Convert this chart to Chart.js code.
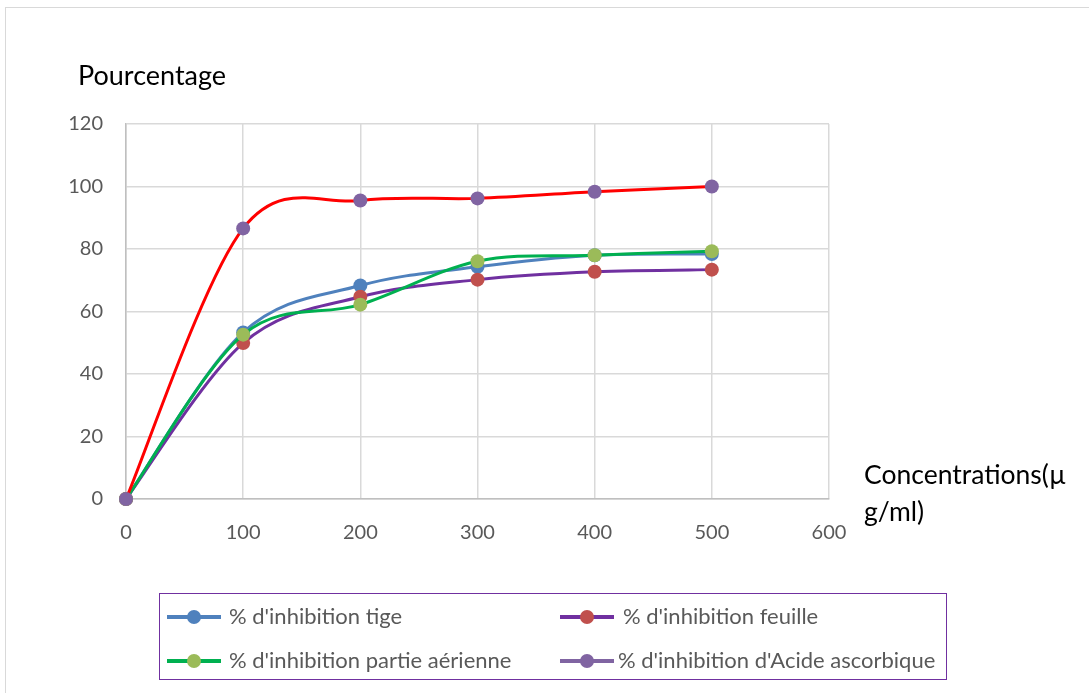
<!DOCTYPE html>
<html lang="fr">
<head>
<meta charset="utf-8">
<title>Pourcentage d'inhibition</title>
<script src="https://cdn.jsdelivr.net/npm/chart.js@4.4.1/dist/chart.umd.min.js"></script>
<style>
  html, body { margin: 0; padding: 0; background: #fff; }
  body { width: 1089px; height: 693px; position: relative; overflow: hidden; font-family: Lato, sans-serif; }
  #frame { position: absolute; left: 5px; top: 7px; width: 1200px; height: 800px; border-left: 1px solid #d9d9d9; border-top: 1px solid #d9d9d9; }
  #chart { position: absolute; left: 0; top: 0; }
  .axis-title { position: absolute; color: #000; line-height: 37px; white-space: nowrap; }
  #legend { position: absolute; left: 159px; top: 593px; width: 786px; height: 85px; border: 1.5px solid #7030a0; }
  .lg-item { position: absolute; height: 20px; }
  .lg-line { position: absolute; top: 8px; height: 4px; width: 54px; left: 0; }
  .lg-dot { position: absolute; top: 3px; width: 14px; height: 14px; border-radius: 50%; left: 20px; }
  .lg-text { position: absolute; top: -5px; font-size: 22px; color: #595959; white-space: nowrap; }
</style>
</head>
<body>
<div id="frame"></div>
<canvas id="chart" width="1089" height="693"></canvas>
<div class="axis-title" style="left:78px; top:56px; font-size:27px;">Pourcentage</div>
<div class="axis-title" style="left:864px; top:456px; font-size:26.5px;">Concentrations(µ<br>g/ml)</div>
<div id="legend"></div>

<script>
// concentrations (µg/ml) and inhibition percentages per extract
const concentrations = [0, 100, 200, 300, 400, 500];
const tige = [0, 53.3, 68.3, 74.3, 78.0, 78.4];
const feuille = [0, 49.9, 64.7, 70.2, 72.7, 73.4];
const partieAerienne = [0, 52.6, 62.2, 76.1, 78.0, 79.3];
const acideAscorbique = [0, 86.6, 95.5, 96.2, 98.3, 100];

const seriesLabels = [
  "% d'inhibition tige",
  "% d'inhibition feuille",
  "% d'inhibition partie aérienne",
  "% d'inhibition d'Acide ascorbique"
];
const seriesValues = [tige, feuille, partieAerienne, acideAscorbique];
const lineColors = ['#4f81bd', '#7030a0', '#00b050', '#ff0000'];
const markerColors = ['#4f81bd', '#c0504d', '#9bbb59', '#8064a2'];
// the legend swatch for the ascorbic acid series keeps its original lilac line
const legendLineColors = ['#4f81bd', '#7030a0', '#00b050', '#8064a2'];

const xTicks = [0, 100, 200, 300, 400, 500, 600];
const yTicks = [0, 20, 40, 60, 80, 100, 120];

const toPoints = (vals) => vals.map((v, i) => ({ x: concentrations[i], y: v }));

const datasets = seriesValues.map((vals, i) => ({
  label: seriesLabels[i],
  data: toPoints(vals),
  showLine: true,
  tension: 0.4,
  clip: false,
  borderColor: lineColors[i],
  borderWidth: 3,
  backgroundColor: markerColors[i],
  pointBackgroundColor: markerColors[i],
  pointBorderColor: markerColors[i],
  pointRadius: 7,
  pointBorderWidth: 0,
  order: seriesValues.length - i   // later series drawn on top
}));

// uniform Catmull-Rom control points (tangent = (next - prev) / 6),
// the usual "smoothed line" look, instead of Chart.js' distance-weighted spline
const smoothLines = {
  id: 'smoothLines',
  beforeDatasetDraw(chart, args) {
    const meta = args.meta;
    const line = meta.dataset;
    if (!line) return;
    line.updateControlPoints(chart.chartArea, meta.iScale.axis);
    const pts = line.points;
    pts.forEach((p, i) => {
      const prev = pts[i - 1] || p;
      const next = pts[i + 1] || p;
      const tx = (next.x - prev.x) / 6;
      const ty = (next.y - prev.y) / 6;
      p.cp1x = p.x - tx; p.cp1y = p.y - ty;
      p.cp2x = p.x + tx; p.cp2y = p.y + ty;
    });
  }
};

const tickFont = { family: 'Lato', size: 20 };

new Chart(document.getElementById('chart'), {
  type: 'scatter',
  data: { datasets },
  plugins: [smoothLines],
  options: {
    responsive: false,
    animation: false,
    layout: { padding: { left: 0, top: 124, right: 260, bottom: 0 } },
    plugins: { legend: { display: false }, tooltip: { enabled: false } },
    scales: {
      x: {
        type: 'linear',
        min: xTicks[0],
        max: xTicks[xTicks.length - 1],
        afterBuildTicks: (s) => { s.ticks = xTicks.map(v => ({ value: v })); },
        afterFit: (s) => { s.height = 194; },
        ticks: { font: tickFont, color: '#595959', padding: 22, maxRotation: 0 },
        grid: { color: '#d9d9d9', lineWidth: 1.5, drawTicks: false },
        border: { color: '#bfbfbf', width: 1.5 }
      },
      y: {
        min: yTicks[0],
        max: yTicks[yTicks.length - 1],
        afterBuildTicks: (s) => { s.ticks = yTicks.map(v => ({ value: v })); },
        afterFit: (s) => { s.width = 126; },
        ticks: { font: tickFont, color: '#595959', padding: 23 },
        grid: { color: '#d9d9d9', lineWidth: 1.5, drawTicks: false },
        border: { color: '#bfbfbf', width: 1.5 }
      }
    }
  }
});

// two-column legend inside the purple box
const legendSlots = [
  { left: 7, top: 13, textLeft: 62 },
  { left: 400, top: 13, textLeft: 63 },
  { left: 7, top: 57, textLeft: 62 },
  { left: 400, top: 57, textLeft: 58 }
];
const legend = document.getElementById('legend');
seriesLabels.forEach((label, i) => {
  const slot = legendSlots[i];
  const item = document.createElement('div');
  item.className = 'lg-item';
  item.style.left = slot.left + 'px';
  item.style.top = slot.top + 'px';
  item.innerHTML =
    `<div class="lg-line" style="background:${legendLineColors[i]}"></div>` +
    `<div class="lg-dot" style="background:${markerColors[i]}"></div>` +
    `<div class="lg-text" style="left:${slot.textLeft}px">${label}</div>`;
  legend.appendChild(item);
});
</script>
</body>
</html>
